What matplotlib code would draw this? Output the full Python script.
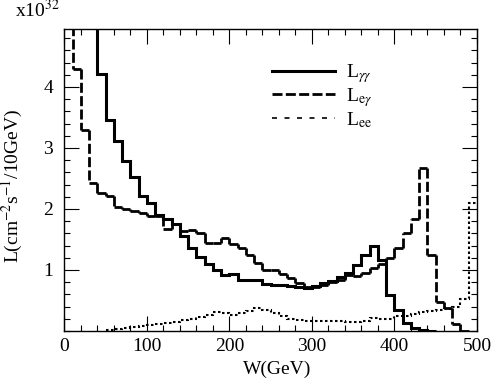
import numpy as np
import matplotlib
matplotlib.use("Agg")
import matplotlib.pyplot as plt
from matplotlib.collections import LineCollection
from matplotlib.lines import Line2D

# ---- data (10 GeV bins), luminosity in units of 1e32 ----
# L_gamma_gamma : bins from 30 GeV to 440 GeV (first bin is off-scale)
gg_start = 30
gg_vals = [8.0, 4.21, 3.46, 3.11, 2.79, 2.53, 2.21, 2.09, 1.90, 1.83,
           1.75, 1.55, 1.36, 1.22, 1.09, 1.00, 0.92, 0.93, 0.84, 0.84,
           0.83, 0.77, 0.76, 0.75, 0.73, 0.72, 0.70, 0.73, 0.78, 0.82,
           0.88, 0.95, 1.08, 1.25, 1.39, 1.17, 0.59, 0.35, 0.13, 0.045,
           0.016, 0.0]

# L_e_gamma : bins from 0 GeV to 480 GeV (first bin is off-scale)
eg_start = 0
eg_vals = [8.0, 4.29, 3.30, 2.43, 2.26, 2.21, 2.03, 2.00, 1.96, 1.93,
           1.88, 1.88, 1.68, 1.75, 1.64, 1.66, 1.61, 1.44, 1.45, 1.53,
           1.42, 1.36, 1.24, 1.11, 1.00, 1.00, 0.93, 0.87, 0.79, 0.72,
           0.72, 0.75, 0.80, 0.84, 0.92, 0.90, 0.95, 1.03, 1.09, 1.20,
           1.36, 1.61, 1.83, 2.67, 1.25, 0.48, 0.37, 0.11, 0.0]

# L_ee : bins from 50 GeV to 500 GeV
ee_start = 50
ee_vals = [0.01, 0.03, 0.05, 0.07, 0.08, 0.10, 0.11, 0.13, 0.15, 0.18,
           0.20, 0.23, 0.27, 0.31, 0.29, 0.26, 0.29, 0.33, 0.37, 0.34,
           0.30, 0.24, 0.20, 0.18, 0.17, 0.17, 0.17, 0.17, 0.16, 0.15,
           0.14, 0.17, 0.21, 0.19, 0.20, 0.25, 0.25, 0.28, 0.31, 0.33,
           0.34, 0.36, 0.40, 0.52, 2.10]

bin_width = 10
x_ticks = [0, 100, 200, 300, 400, 500]
y_ticks = [1, 2, 3, 4]
labels = [r'L$_{\gamma\gamma}$', r'L$_{\mathrm{e}\gamma}$', r'L$_{\mathrm{ee}}$']

plt.rcParams['font.family'] = ['Liberation Serif', 'DejaVu Serif']
plt.rcParams['mathtext.fontset'] = 'stix'

fig = plt.figure(figsize=(4.91, 3.78), dpi=100)
ax = fig.add_axes([64.3/491, 1-331/378, (477-64.3)/491, (331-29)/378])


def step_segments(start, vals):
    vals = np.asarray(vals, float)
    edges = start + bin_width*np.arange(len(vals)+1)
    segs = []
    for i, v in enumerate(vals):
        segs.append([(edges[i], v), (edges[i+1], v)])
        if i+1 < len(vals):
            segs.append([(edges[i+1], v), (edges[i+1], vals[i+1])])
    return segs


def edges_of(start, vals):
    return start + bin_width*np.arange(len(vals)+1)

# L_gamma_gamma : solid
ax.stairs(gg_vals, edges_of(gg_start, gg_vals), color='black', lw=2.2,
          baseline=None)

# L_e_gamma : dashed, pattern restarted on every segment
lc = LineCollection(step_segments(eg_start, eg_vals), colors='black',
                    linewidths=2.0, linestyles=[(0, (3.6, 1.2))])
ax.add_collection(lc)

# L_ee : dotted
ax.stairs(ee_vals, edges_of(ee_start, ee_vals), color='black', lw=1.5,
          baseline=None, linestyle=(0, (1.2, 1.2)))

ax.set_xlim(0, 500)
ax.set_ylim(0, 4.95)
ax.set_xticks(x_ticks)
ax.set_yticks(y_ticks)
ax.set_xticks(np.arange(0, 501, 20), minor=True)
ax.set_yticks(np.arange(0, 4.95, 0.2), minor=True)
ax.tick_params(which='both', direction='in', top=True, right=True,
               width=0.8, labelsize=14)
ax.tick_params(which='major', length=11, pad=8)
ax.tick_params(which='minor', length=4)
ax.tick_params(axis='x', pad=5)
for s in ax.spines.values():
    s.set_linewidth(1.0)

ax.set_xlabel('W(GeV)', fontsize=14)
ax.xaxis.set_label_coords(0.515, -0.097)
ax.set_ylabel(r'L(cm$^{-2}$s$^{-1}$/10GeV)', fontsize=14)
ax.yaxis.set_label_coords(-0.095, 0.48)

fig.text(15/491, 1-17/378, r'x10$^{32}$', fontsize=14, ha='left',
         va='baseline')

handles = [Line2D([], [], color='black', lw=2.2),
           Line2D([], [], color='black', lw=2.0, linestyle=(0, (3.6, 1.2))),
           Line2D([], [], color='black', lw=1.2, linestyle=(0, (3, 4.5)))]
ax.legend(handles, labels, loc='upper left', bbox_to_anchor=(0.504, 0.89),
          frameon=False, fontsize=14, handlelength=3.2, handletextpad=0.6,
          borderpad=0, borderaxespad=0, labelspacing=0.05)

fig.savefig('out.png', dpi=100)
